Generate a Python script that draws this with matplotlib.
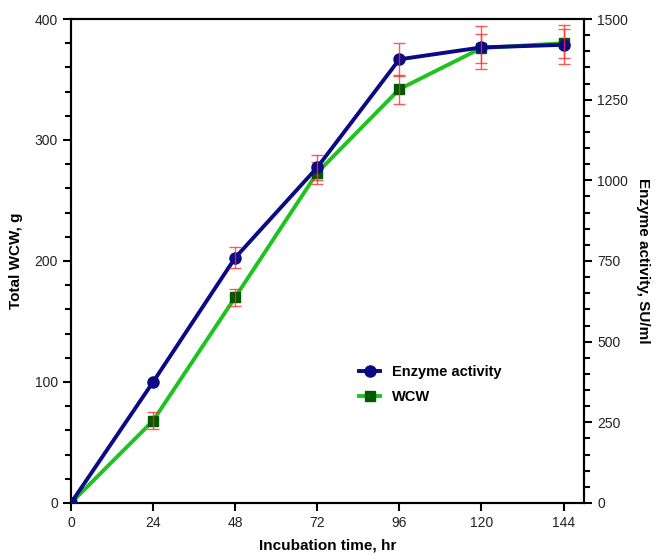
import matplotlib
matplotlib.use("Agg")
import matplotlib.pyplot as plt
from matplotlib.ticker import MultipleLocator

plt.rcParams['font.family'] = ['Liberation Sans', 'DejaVu Sans']

time_hr = [0, 24, 48, 72, 96, 120, 144]
wcw_g = [0, 68, 170, 273, 342, 376, 380]
wcw_err = [0, 7, 7, 9, 12, 12, 12]
enzyme_su = [0, 375, 760, 1040, 1375, 1412, 1420]
enzyme_err = [0, 0, 32, 40, 52, 67, 60]

fig = plt.figure(figsize=(6.68, 5.54), dpi=100)
ax = fig.add_axes([0.1063, 0.0921, 0.768, 0.8736])
ax2 = ax.twinx()

green_line = '#1ec31e'
green_mk = '#005a00'
navy = '#0a0a85'
red = '#ff3030'


def with_err(xs, ys, es):
    keep = [i for i, e in enumerate(es) if e > 0]
    return [xs[i] for i in keep], [ys[i] for i in keep], [es[i] for i in keep]


wx, wy, we = with_err(time_hr, wcw_g, wcw_err)
ax.errorbar(wx, wy, yerr=we, fmt='none', ecolor=red, elinewidth=1,
            capsize=4, capthick=1, zorder=5, alpha=0.8)
ax.plot(time_hr, wcw_g, color=green_line, lw=2.8, marker='s', ms=7,
        mfc=green_mk, mec=green_mk, label='WCW', zorder=3)

ax2.plot(time_hr, enzyme_su, color=navy, lw=2.8, marker='o', ms=8,
         mfc=navy, mec=navy, label='Enzyme activity', zorder=3)
ex, ey, ee = with_err(time_hr, enzyme_su, enzyme_err)
ax2.errorbar(ex, ey, yerr=ee, fmt='none', ecolor=red, elinewidth=1,
             capsize=4, capthick=1, zorder=5, alpha=0.8)

ax.set_xlim(0, 150)
ax.set_ylim(0, 400)
ax2.set_ylim(0, 1500)
ax.set_xticks(time_hr)
ax.yaxis.set_major_locator(MultipleLocator(100))
ax.yaxis.set_minor_locator(MultipleLocator(20))
ax2.yaxis.set_major_locator(MultipleLocator(250))
ax2.yaxis.set_minor_locator(MultipleLocator(50))

for a in (ax, ax2):
    for s in a.spines.values():
        s.set_linewidth(1.5)
    a.tick_params(which='major', length=6, width=1.5, labelsize=10, labelcolor='#222222')
    a.tick_params(which='minor', length=4, width=1.5)

ax.set_xlabel('Incubation time, hr', fontsize=11, fontweight='bold', labelpad=6)
ax.set_ylabel('Total WCW, g', fontsize=11, fontweight='bold', labelpad=8)
ax2.set_ylabel('Enzyme activity, SU/ml', fontsize=11, fontweight='bold', rotation=270, labelpad=16)

h1, l1 = ax2.get_legend_handles_labels()
h2, l2 = ax.get_legend_handles_labels()
leg = ax2.legend(h1 + h2, l1 + l2, loc='center', bbox_to_anchor=(0.70, 0.244),
                 frameon=False, prop={'weight': 'bold', 'size': 10.5}, handlelength=1.5,
                 handletextpad=0.8, labelspacing=0.75)

fig.savefig('out.png', dpi=100)
